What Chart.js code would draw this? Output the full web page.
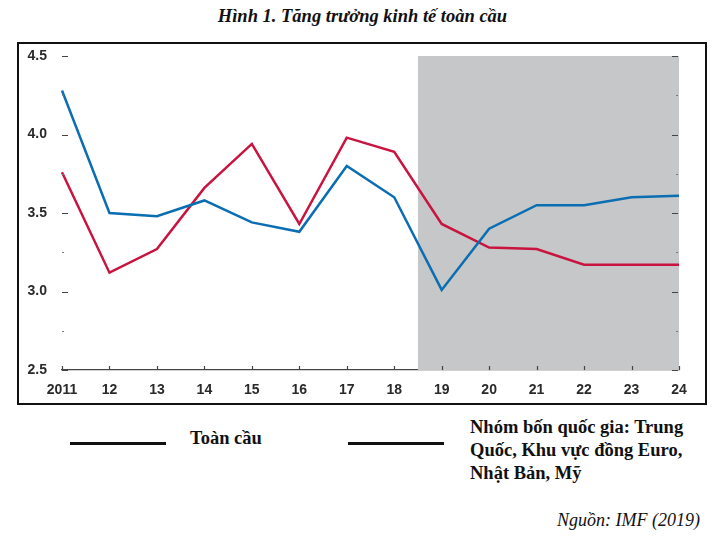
<!DOCTYPE html>
<html>
<head>
<meta charset="utf-8">
<script src="https://cdn.jsdelivr.net/npm/chart.js@4"></script>
<style>
  body { margin: 0; background: #fff; width: 725px; height: 537px; position: relative; overflow: hidden; }
  .title { position: absolute; left: 0; width: 725px; top: 6px; text-align: center;
    font: italic bold 18.5px "Liberation Serif", serif; color: #111; }
  .box { position: absolute; left: 17px; top: 42px; width: 686px; height: 359px; border: 2px solid #111; }
  .box canvas { display: block; }
  .lg-line { position: absolute; height: 3px; background: #111; }
  .lg-text { position: absolute; font: bold 18.5px/23px "Liberation Serif", serif; color: #111; white-space: nowrap; }
  .src { position: absolute; right: 25px; top: 510px; font: italic 18px "Liberation Serif", serif; color: #111; }
</style>
</head>
<body>
<div class="title">Hình 1. Tăng trưởng kinh tế toàn cầu</div>
<div class="box"><canvas id="c" width="686" height="359"></canvas></div>
<div class="lg-line" style="left:70px; top:442px; width:96px;"></div>
<div class="lg-text" style="left:190px; top:427px;">Toàn cầu</div>
<div class="lg-line" style="left:348px; top:442px; width:96px;"></div>
<div class="lg-text" style="left:470px; top:416px;">Nhóm bốn quốc gia: Trung<br>Quốc, Khu vực đồng Euro,<br>Nhật Bản, Mỹ</div>
<div class="src">Nguồn: IMF (2019)</div>
<script>
const years = ['2011', '12', '13', '14', '15', '16', '17', '18', '19', '20', '21', '22', '23', '24'];
const global = [4.28, 3.50, 3.48, 3.58, 3.44, 3.38, 3.80, 3.60, 3.01, 3.40, 3.55, 3.55, 3.60, 3.61];
const group4 = [3.76, 3.12, 3.27, 3.66, 3.94, 3.43, 3.98, 3.89, 3.43, 3.28, 3.27, 3.17, 3.17, 3.17];
const forecastFrom = 8; // index of '19'

const shadeAndTicks = {
  id: 'shadeAndTicks',
  beforeDatasetsDraw(chart) {
    const { ctx, chartArea: a, scales: { x } } = chart;
    const x0 = (x.getPixelForValue(forecastFrom - 1) + x.getPixelForValue(forecastFrom)) / 2;
    ctx.save();
    ctx.fillStyle = '#c6c7c9';
    ctx.fillRect(x0, a.top, a.right - x0, a.bottom - a.top);
    ctx.restore();
  },
  afterDraw(chart) {
    const { ctx, chartArea: a, scales: { x, y } } = chart;
    ctx.save();
    ctx.lineWidth = 1.2;
    y.ticks.forEach(t => {
      const py = Math.round(y.getPixelForValue(t.value)) + 0.5;
      const major = Math.abs(t.value * 2 - Math.round(t.value * 2)) < 1e-6;
      const len = major ? 6 : 2;
      ctx.strokeStyle = major ? '#444' : '#777';
      ctx.beginPath();
      ctx.moveTo(a.left, py); ctx.lineTo(a.left + len, py);
      ctx.moveTo(a.right - 1, py); ctx.lineTo(a.right - 1 - len, py);
      ctx.stroke();
    });
    ctx.strokeStyle = '#444';
    years.forEach((_, i) => {
      const px = Math.round(x.getPixelForValue(i)) + 0.5;
      ctx.beginPath();
      ctx.moveTo(px, a.bottom); ctx.lineTo(px, a.bottom - 4);
      ctx.stroke();
    });
    ctx.restore();
  }
};

new Chart(document.getElementById('c'), {
  type: 'line',
  data: {
    labels: years,
    datasets: [
      { label: 'Toàn cầu', data: global, borderColor: '#0b6eb2', borderWidth: 2.5, pointRadius: 0, tension: 0 },
      { label: 'Nhóm bốn quốc gia', data: group4, borderColor: '#c8143f', borderWidth: 2.5, pointRadius: 0, tension: 0 }
    ]
  },
  options: {
    responsive: false,
    animation: false,
    layout: { padding: { top: 12, right: 26, left: 0, bottom: 0 } },
    plugins: { legend: { display: false }, tooltip: { enabled: false } },
    scales: {
      x: {
        offset: false,
        grid: { display: false },
        border: { display: true, color: '#444', width: 1.2 },
        ticks: { autoSkip: false, maxRotation: 0, padding: 4, color: '#2a2a2a',
          font: { family: 'Liberation Sans', size: 14, weight: 'bold' } },
        afterFit(s) { s.height = 33; s.paddingLeft = 0; s.paddingRight = 0; }
      },
      y: {
        min: 2.5, max: 4.5,
        grid: { display: false },
        border: { display: false },
        ticks: {
          stepSize: 0.25, padding: 7, color: '#2a2a2a',
          font: { family: 'Liberation Sans', size: 14, weight: 'bold' },
          callback: v => (Math.abs(v * 2 - Math.round(v * 2)) < 1e-6 ? v.toFixed(1) : '')
        },
        afterFit(s) { s.width = 43; s.paddingTop = 0; s.paddingBottom = 0; }
      }
    }
  },
  plugins: [shadeAndTicks]
});
</script>
</body>
</html>
